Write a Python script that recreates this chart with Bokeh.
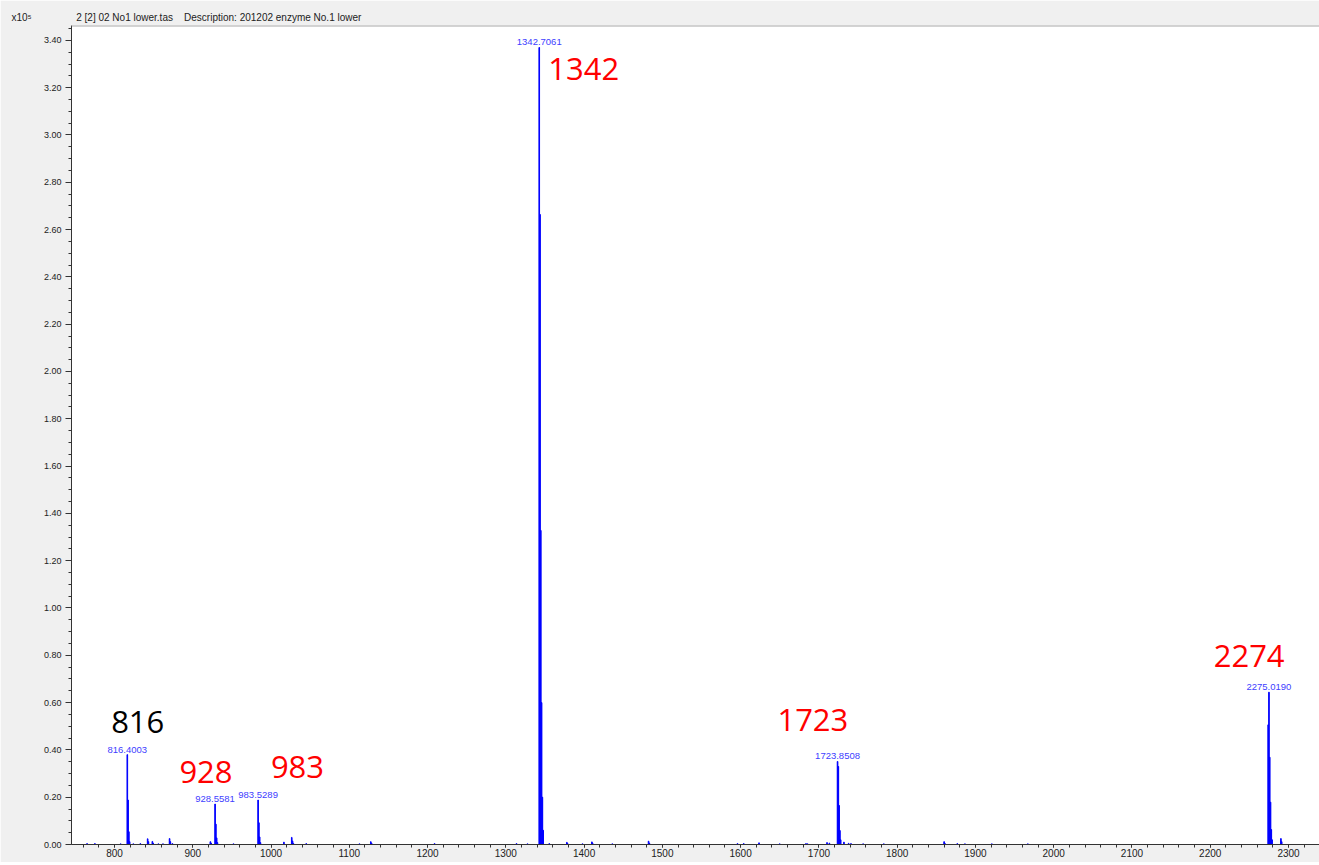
from bokeh.plotting import figure
from bokeh.models import (FixedTicker, PrintfTickFormatter, Label, LabelSet,
                          ColumnDataSource, Span, Range1d)
from bokeh.core.properties import value
from bokeh.embed import file_html
from bokeh.resources import INLINE

# ---------------- data (intensity in units of 1e5) ----------------
peak_mz = [765.0, 775.0, 808.0, 816.40, 817.40, 818.40, 819.40, 824.0, 833.0,
           842.4, 843.4, 848.4, 849.4, 856.0, 862.0, 870.4, 871.4, 874.0,
           922.5, 923.5, 928.56, 929.56, 930.56, 931.56, 952.0,
           983.53, 984.53, 985.53, 986.53, 1016.5, 1026.5, 1027.5, 1028.5,
           1045.0, 1113.0, 1127.5, 1128.5, 1209.0, 1313.7, 1327.7,
           1342.71, 1343.71, 1344.71, 1345.71, 1346.71, 1347.71,
           1355.5, 1378.0, 1379.0, 1398.0, 1410.0, 1411.0, 1436.0, 1482.4, 1483.4,
           1596.0, 1604.0, 1623.5, 1650.0, 1683.5, 1685.5, 1710.4, 1713.4,
           1723.85, 1724.85, 1725.85, 1726.85, 1727.85, 1732.0, 1738.0, 1741.0,
           1756.5, 1783.0, 1860.0, 1861.0, 1876.8, 1886.6, 1921.0, 1967.0,
           2274.02, 2275.02, 2276.02, 2277.02, 2278.02, 2279.02, 2290.3, 2291.3]
peak_int = [0.004, 0.004, 0.003, 0.380, 0.188, 0.054, 0.012, 0.003, 0.004,
            0.024, 0.012, 0.013, 0.006, 0.003, 0.003, 0.025, 0.012, 0.004,
            0.012, 0.006, 0.171, 0.086, 0.028, 0.008, 0.003,
            0.188, 0.092, 0.032, 0.008, 0.010, 0.030, 0.015, 0.005,
            0.004, 0.003, 0.012, 0.006, 0.004, 0.004, 0.003,
            3.370, 2.664, 1.328, 0.600, 0.200, 0.060,
            0.004, 0.009, 0.004, 0.003, 0.011, 0.005, 0.003, 0.014, 0.006,
            0.004, 0.004, 0.007, 0.003, 0.004, 0.003, 0.008, 0.006,
            0.351, 0.330, 0.165, 0.059, 0.020, 0.010, 0.005, 0.004,
            0.003, 0.003, 0.012, 0.005, 0.004, 0.003, 0.003, 0.003,
            0.506, 0.644, 0.369, 0.179, 0.063, 0.020, 0.025, 0.012]

label_mz = [816.4003, 928.5581, 983.5289, 1342.7061, 1723.8508, 2275.0190]
label_int = [0.380, 0.171, 0.188, 3.370, 0.351, 0.644]
label_text = ["816.4003", "928.5581", "983.5289", "1342.7061", "1723.8508", "2275.0190"]

x_ticks = [800, 900, 1000, 1100, 1200, 1300, 1400, 1500, 1600, 1700,
           1800, 1900, 2000, 2100, 2200, 2300]
y_ticks = [0.0, 0.2, 0.4, 0.6, 0.8, 1.0, 1.2, 1.4, 1.6, 1.8, 2.0,
           2.2, 2.4, 2.6, 2.8, 3.0, 3.2, 3.4]

scale_text = "x10\u2075"
header_text = (scale_text + "\u00a0" * 16 + "2 [2] 02 No1 lower.tas" + "\u00a0" * 4 +
               "Description: 201202 enzyme No.1 lower")

# ---------------- figure ----------------
X0, X1 = 745.1, 2339.6
Y0, Y1 = 0.0, 3.463
FONT = "Liberation Sans"

p = figure(width=1319, height=862, output_backend="svg", toolbar_location=None,
           x_range=Range1d(X0, X1), y_range=Range1d(Y0, Y1),
           min_border_left=71, min_border_right=0, min_border_top=25,
           min_border_bottom=18, background_fill_color="white",
           border_fill_color="#f0f0f0", outline_line_color=None,
           title=header_text)
p.grid.visible = False
p.title.align = "left"
p.title.offset = -60
p.title.standoff = 6
p.title.text_font = FONT
p.title.text_font_size = "10px"
p.title.text_font_style = "normal"
p.title.text_color = "#222222"

p.vbar(x=peak_mz, top=peak_int, bottom=0, width=0.8,
       fill_color="#0000ff", line_color="#0000ff", line_width=1)

# axes
xa = p.xaxis[0]
xa.ticker = FixedTicker(ticks=x_ticks, minor_ticks=[760 + 20 * i for i in range(80)])
xa.major_tick_out = 3
xa.major_tick_in = 0
xa.minor_tick_out = 3
xa.minor_tick_in = 0
xa.major_label_standoff = 1
xa.major_label_text_font = FONT
xa.major_label_text_font_size = "10px"
xa.major_label_text_color = "#222222"
xa.axis_line_color = "#333333"
xa.major_tick_line_color = "#333333"
xa.minor_tick_line_color = "#333333"

ya = p.yaxis[0]
ya.ticker = FixedTicker(ticks=y_ticks, minor_ticks=[round(0.05 * i, 2) for i in range(70)])
ya.formatter = PrintfTickFormatter(format="%.2f")
ya.major_tick_out = 6
ya.major_tick_in = 0
ya.minor_tick_out = 3
ya.minor_tick_in = 0
ya.major_label_standoff = 4
ya.major_label_text_font = FONT
ya.major_label_text_font_size = "9px"
ya.major_label_text_color = "#222222"
ya.axis_line_color = "#333333"
ya.major_tick_line_color = "#333333"
ya.minor_tick_line_color = "#333333"

# top border of plot area
p.add_layout(Span(location=Y1, dimension="width", line_color="#a8a8a8", line_width=2))

# peak m/z labels
src = ColumnDataSource(dict(x=label_mz, y=label_int, t=label_text))
p.add_layout(LabelSet(x="x", y="y", text="t", source=src, text_align="center",
                      text_baseline="bottom", y_offset=2,
                      text_font=value(FONT), text_font_size=value("9.5px"),
                      text_color="#4040ff"))

# large annotations
for tx, xx, yy, col in [("816", 829.7, 0.519, "black"),
                        ("928", 916.9, 0.308, "red"),
                        ("983", 1033.8, 0.329, "red"),
                        ("1342", 1399.6, 3.281, "red"),
                        ("1723", 1692.3, 0.526, "red"),
                        ("2274", 2249.7, 0.796, "red")]:
    p.add_layout(Label(x=xx, y=yy, text=tx, text_align="center",
                       text_baseline="alphabetic", text_font="Open Sans",
                       text_font_size="31px", text_color=col))

open("out.html", "w").write(file_html(p, INLINE))
